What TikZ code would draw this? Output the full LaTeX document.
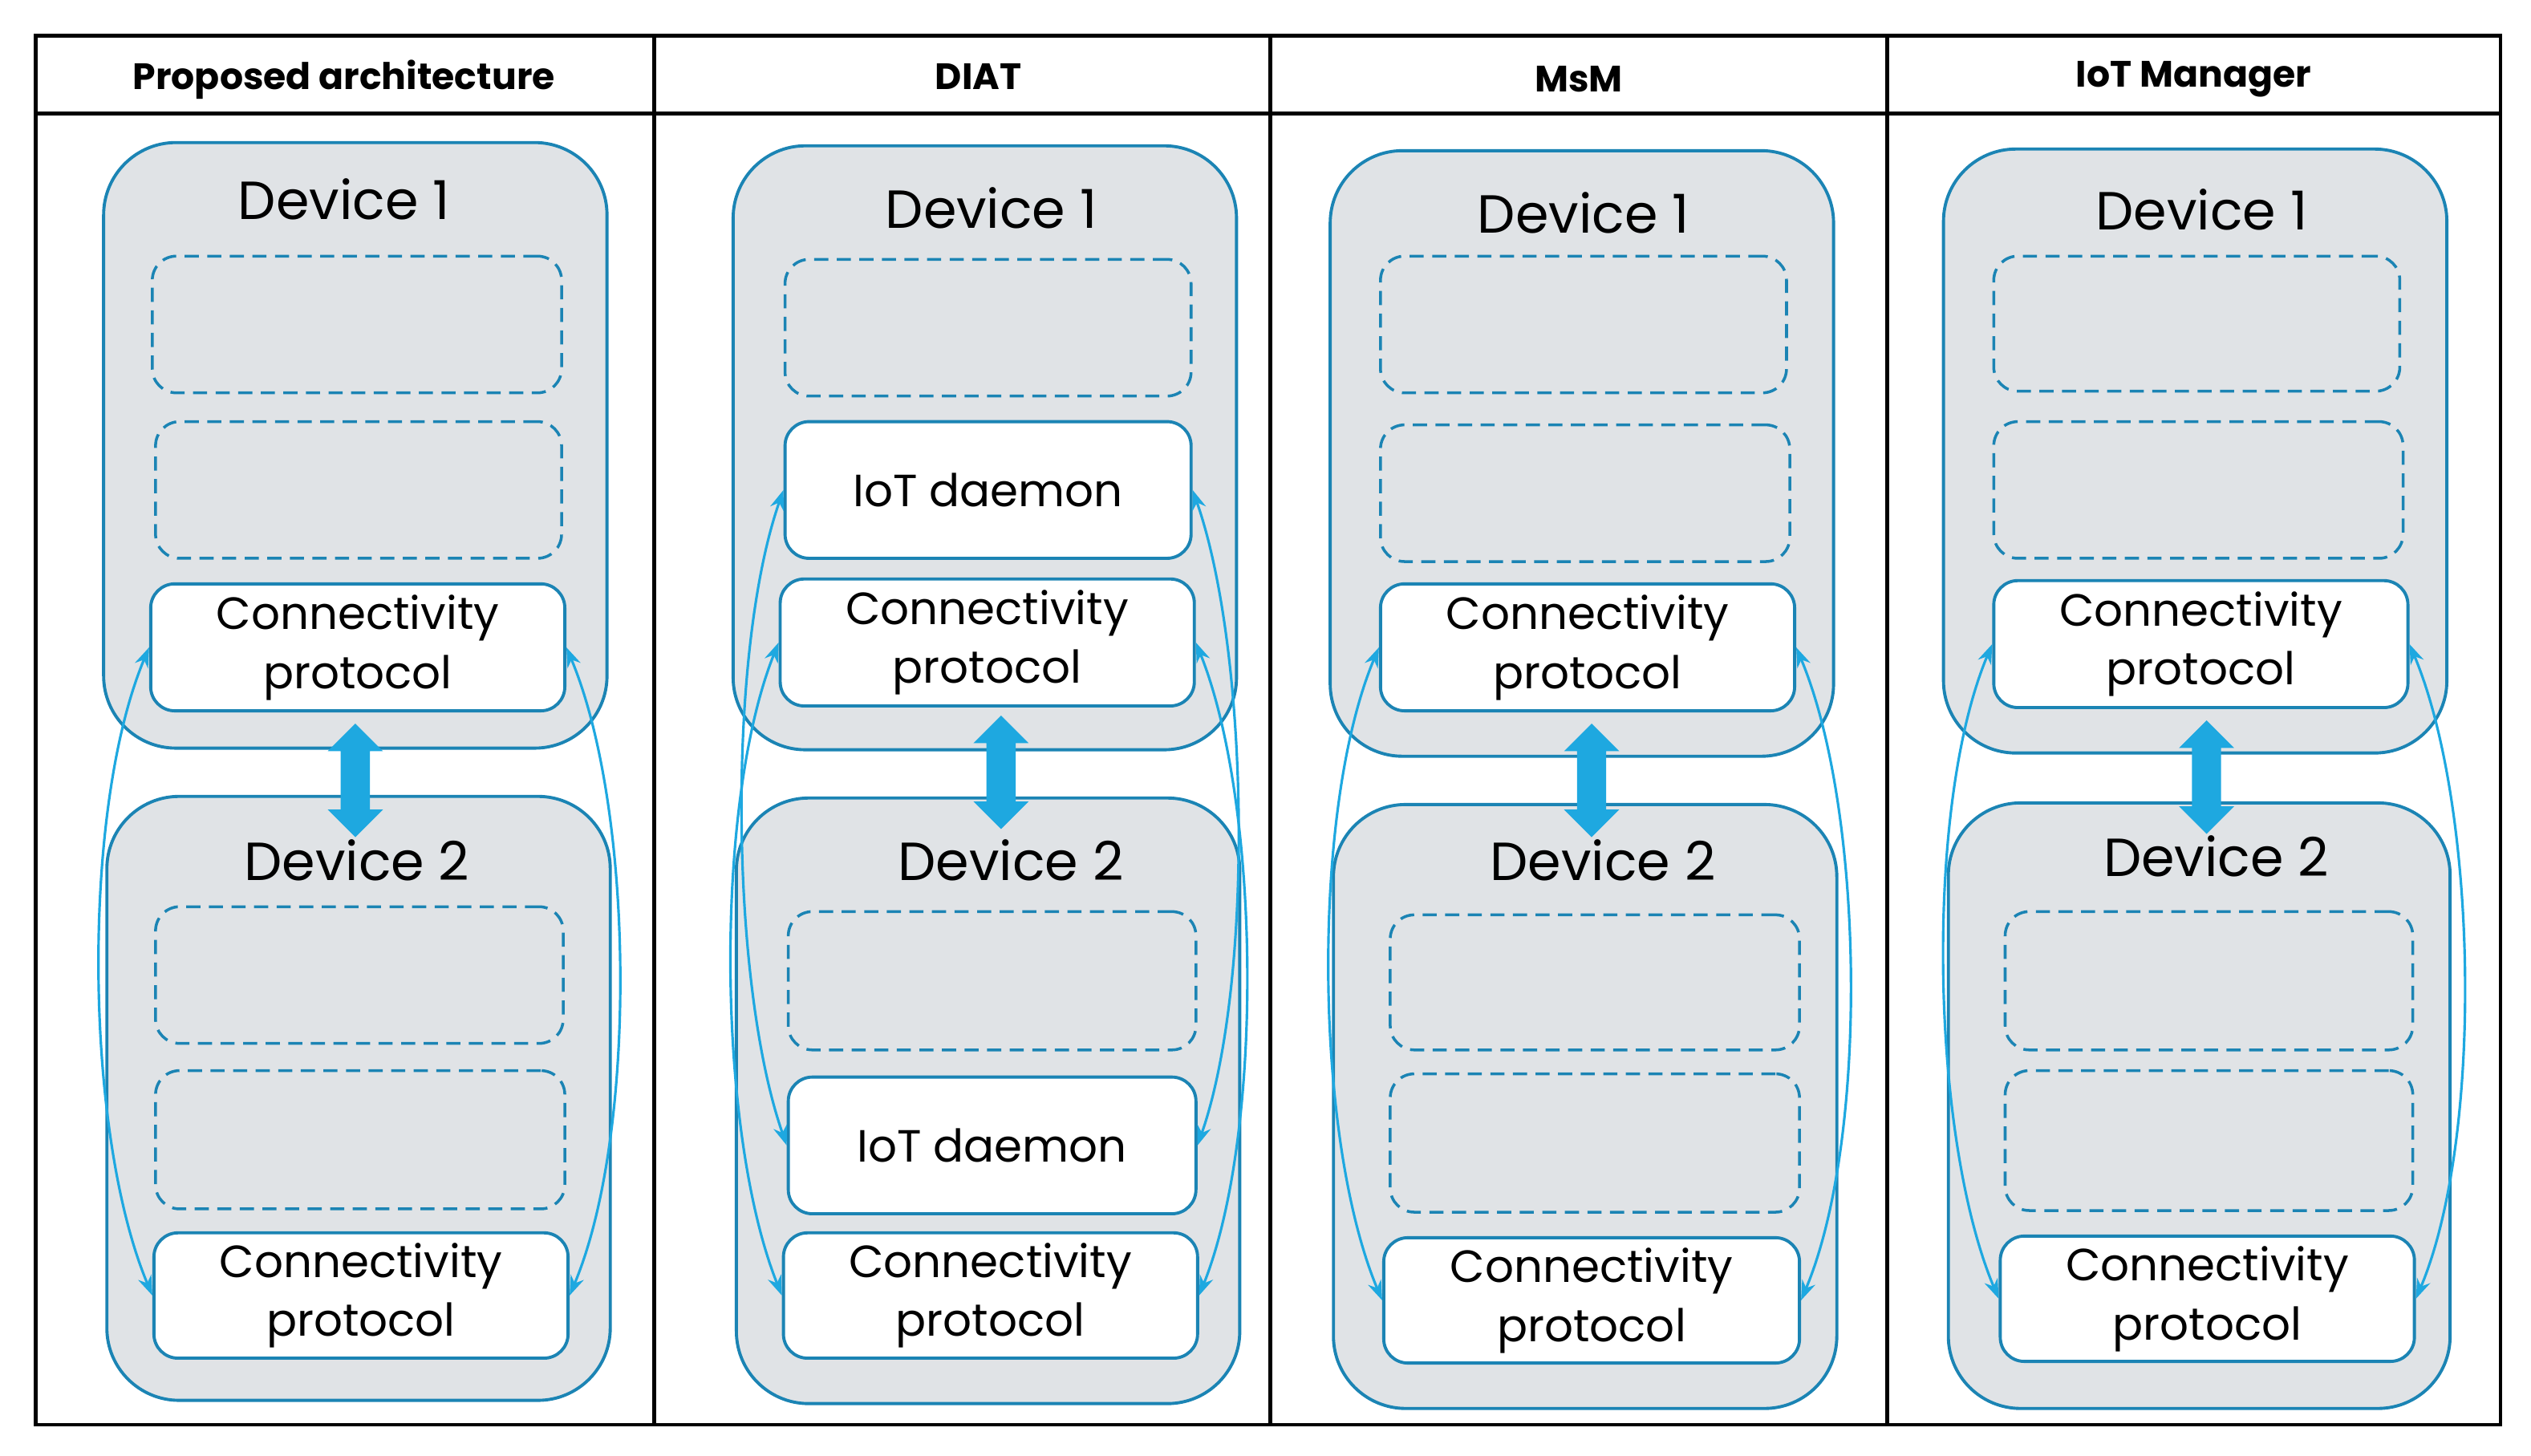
\documentclass[tikz,border=0pt]{standalone}
\usepackage{fontspec}
\setmainfont{Poppins}
\usetikzlibrary{arrows.meta}
\definecolor{bd}{HTML}{1B84B4}
\definecolor{gf}{HTML}{E0E3E6}
\definecolor{ar}{HTML}{1EA8E0}
\newcommand\bx[7]{\node[#2,minimum width={(#5-#3)*0.0202cm-1pt},minimum height={(#6-#4)*0.0202cm-1pt}] (#1) at ({(#3+#5)/2},{(#4+#6)/2}) {#7};}
\newcommand\darrow[3]{\fill[ar] (#1,#2) -- (#1+17,#2+17) -- (#1+9,#2+17) -- (#1+9,#3-17) -- (#1+17,#3-17) -- (#1,#3) -- (#1-17,#3-17) -- (#1-9,#3-17) -- (#1-9,#2+17) -- (#1-17,#2+17) -- cycle;}
\tikzset{
 dev/.style={draw=bd,fill=gf,rounded corners=0.9cm,line width=1.1pt,inner sep=0},
 dbox/.style={draw=bd,rounded corners=0.3cm,line width=1pt,dash pattern=on 5pt off 3pt,inner sep=0},
 wbox/.style={draw=bd,fill=white,rounded corners=0.3cm,line width=1.1pt,inner sep=0,align=center,font=\fontsize{16}{21}\selectfont},
 ttl/.style={font=\fontsize{19}{24}\selectfont},
 hdr/.style={font=\bfseries\fontsize{13}{16}\selectfont},
 link/.style={ar,line width=0.9pt,{Stealth[length=7pt,width=5pt]}-{Stealth[length=7pt,width=5pt]}},
}
\begin{document}
\begin{tikzpicture}[x=0.0202cm,y=-0.0202cm]
\useasboundingbox (0,0) rectangle (1560,897);
% table
\draw[line width=1.2pt] (22,22) rectangle (1541,878);
\draw[line width=1.2pt] (22,70) -- (1541,70);
\foreach \x in {403,783,1163} \draw[line width=1.4pt] (\x,22) -- (\x,878);
\node[hdr] (h1) at (212,49) {Proposed architecture};
\node[hdr] (h2) at (603,47) {DIAT};
\node[hdr] (h3) at (973,49) {MsM};
\node[hdr] (h4) at (1352,49) {IoT Manager};
% column 1
\bx{a1}{dev}{63}{87}{375}{462}{}
\bx{a2}{dev}{65}{490}{377}{864}{}
\node[ttl] (at1) at (212,123) {Device 1};
\node[ttl] (at2) at (220,530) {Device 2};
\bx{ad1}{dbox}{93}{157}{347}{243}{}
\bx{ad2}{dbox}{95}{259}{347}{345}{}
\bx{ac1}{wbox}{92}{359}{349}{439}{Connectivity\\protocol}
\bx{ad3}{dbox}{95}{558}{348}{644}{}
\bx{ad4}{dbox}{95}{659}{349}{746}{}
\bx{ac2}{wbox}{94}{759}{351}{838}{Connectivity\\protocol}
\darrow{219}{446}{516}
\draw[link] (ac1.west) .. controls +(-42,100) and +(-42,-100) .. (ac2.west);
\draw[link] (ac1.east) .. controls +(42,100) and +(42,-100) .. (ac2.east);
% column 2
\bx{b1}{dev}{451}{89}{763}{463}{}
\bx{b2}{dev}{453}{491}{765}{866}{}
\node[ttl] (bt1) at (611,128) {Device 1};
\node[ttl] (bt2) at (623,530) {Device 2};
\bx{bd1}{dbox}{483}{159}{735}{245}{}
\bx{bi1}{wbox}{483}{259}{735}{345}{IoT daemon}
\bx{bc1}{wbox}{480}{356}{737}{436}{Connectivity\\protocol}
\bx{bd2}{dbox}{485}{561}{738}{648}{}
\bx{bi2}{wbox}{485}{663}{738}{749}{IoT daemon}
\bx{bc2}{wbox}{482}{759}{739}{838}{Connectivity\\protocol}
\darrow{617}{441}{511}
\draw[link] (bi1.west) .. controls +(-35,100) and +(-35,-100) .. (bi2.west);
\draw[link] (bc1.west) .. controls +(-40,100) and +(-40,-100) .. (bc2.west);
\draw[link] (bi1.east) .. controls +(35,100) and +(35,-100) .. (bi2.east);
\draw[link] (bc1.east) .. controls +(40,100) and +(40,-100) .. (bc2.east);
% column 3
\bx{c1}{dev}{819}{92}{1131}{467}{}
\bx{c2}{dev}{821}{495}{1133}{869}{}
\node[ttl] (ct1) at (976,131) {Device 1};
\node[ttl] (ct2) at (988,530) {Device 2};
\bx{cd1}{dbox}{850}{157}{1102}{243}{}
\bx{cd2}{dbox}{850}{261}{1104}{347}{}
\bx{cc1}{wbox}{850}{359}{1107}{439}{Connectivity\\protocol}
\bx{cd3}{dbox}{856}{563}{1110}{648}{}
\bx{cd4}{dbox}{856}{661}{1110}{748}{}
\bx{cc2}{wbox}{852}{762}{1110}{841}{Connectivity\\protocol}
\darrow{981}{446}{516}
\draw[link] (cc1.west) .. controls +(-42,100) and +(-42,-100) .. (cc2.west);
\draw[link] (cc1.east) .. controls +(42,100) and +(42,-100) .. (cc2.east);
% column 4
\bx{e1}{dev}{1197}{91}{1509}{465}{}
\bx{e2}{dev}{1200}{494}{1511}{869}{}
\node[ttl] (et1) at (1357,129) {Device 1};
\node[ttl] (et2) at (1366,528) {Device 2};
\bx{ed1}{dbox}{1228}{157}{1480}{242}{}
\bx{ed2}{dbox}{1228}{259}{1482}{345}{}
\bx{ec1}{wbox}{1228}{357}{1485}{437}{Connectivity\\protocol}
\bx{ed3}{dbox}{1235}{561}{1488}{648}{}
\bx{ed4}{dbox}{1235}{659}{1488}{747}{}
\bx{ec2}{wbox}{1232}{761}{1489}{840}{Connectivity\\protocol}
\darrow{1360}{444}{514}
\draw[link] (ec1.west) .. controls +(-42,100) and +(-42,-100) .. (ec2.west);
\draw[link] (ec1.east) .. controls +(42,100) and +(42,-100) .. (ec2.east);
\end{tikzpicture}
\end{document}
